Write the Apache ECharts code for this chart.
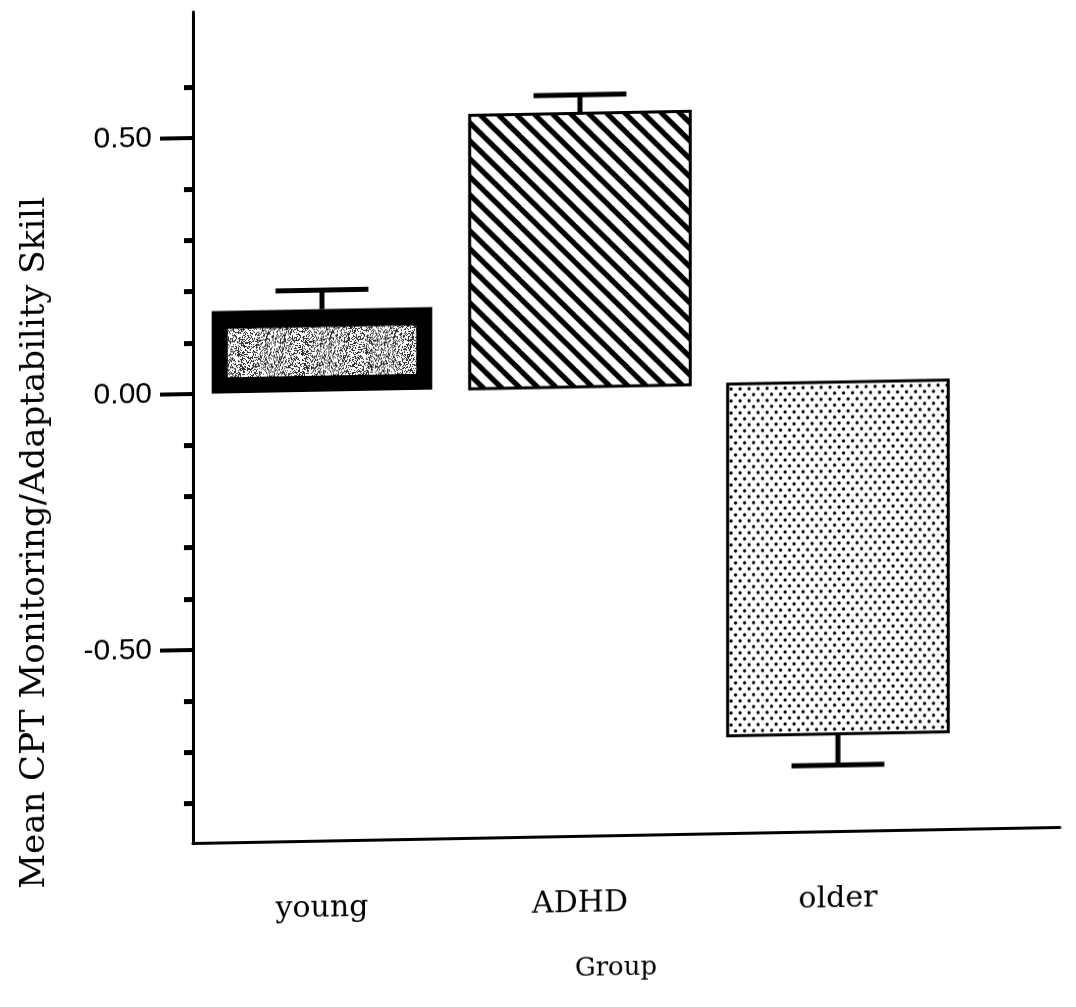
<!DOCTYPE html>
<html>
<head>
<meta charset="utf-8">
<title>Mean CPT Monitoring/Adaptability Skill by Group</title>
<script src="https://cdn.jsdelivr.net/npm/echarts@6/dist/echarts.min.js"></script>
<style>
  html, body { margin: 0; padding: 0; background: #ffffff; }
  /* the printed figure sits with a slight upward slant toward the right */
  #chart {
    width: 1076px; height: 1007px; background: #ffffff;
    transform: skewY(-1.06deg);
    transform-origin: 193px 0;
  }
</style>
</head>
<body>
<div id="chart"></div>
<script>
// ---- data ----
const groups = ['young', 'ADHD', 'older'];
const means = [0.161, 0.534, -0.687];
const errorEnds = [0.198, 0.570, -0.748];
const majorTicks = [-0.5, 0, 0.5];
const minorTicks = [-0.8, -0.7, -0.6, -0.4, -0.3, -0.2, -0.1, 0.1, 0.2, 0.3, 0.4, 0.6];
const yTitle = 'Mean CPT Monitoring/Adaptability Skill';
const xTitle = 'Group';

const SERIF = '"DejaVu Serif", "Liberation Serif", serif';
const SANS = '"Liberation Sans", "DejaVu Sans", sans-serif';

// ---- fill textures ----
function makeCanvas(w, h) {
  const c = document.createElement('canvas');
  c.width = w; c.height = h;
  return c;
}

// diagonal hatching running from upper left to lower right
function hatchTile() {
  const s = 18;
  const c = makeCanvas(s, s);
  const g = c.getContext('2d');
  g.fillStyle = '#fff';
  g.fillRect(0, 0, s, s);
  g.strokeStyle = '#000';
  g.lineWidth = 5.2;
  for (const k of [-1, 0, 1]) {
    g.beginPath();
    g.moveTo(k * s - 3, -3);
    g.lineTo(k * s + s + 3, s + 3);
    g.stroke();
  }
  return c;
}

// staggered dot screen
function dotTile() {
  const w = 9, h = 12;
  const c = makeCanvas(w, h);
  const g = c.getContext('2d');
  g.fillStyle = '#fff';
  g.fillRect(0, 0, w, h);
  g.fillStyle = '#000';
  [[2.2, 3], [6.7, 9]].forEach(([x, y]) => {
    g.beginPath();
    g.arc(x, y, 1.65, 0, Math.PI * 2);
    g.fill();
  });
  return c;
}

// speckled grey screen built from a fixed integer hash
function speckleTile() {
  const s = 64;
  const c = makeCanvas(s, s);
  const g = c.getContext('2d');
  const img = g.createImageData(s, s);
  for (let y = 0; y < s; y++) {
    for (let x = 0; x < s; x++) {
      let h = Math.imul(x + 1, 374761393) ^ Math.imul(y + 7, 668265263);
      h = Math.imul(h ^ (h >>> 13), 1274126177);
      h = (h ^ (h >>> 16)) >>> 0;
      const v = (h % 100) < 63 ? 252 : 45;
      const i = (y * s + x) * 4;
      img.data[i] = img.data[i + 1] = img.data[i + 2] = v;
      img.data[i + 3] = 255;
    }
  }
  g.putImageData(img, 0, 0);
  return c;
}

const hatch = { image: hatchTile(), repeat: 'repeat' };
const dots = { image: dotTile(), repeat: 'repeat' };
const speckle = { image: speckleTile(), repeat: 'repeat' };

// ---- series data: category position, mean, error-bar end ----
const barData = groups.map((name, i) => [i + 0.5, means[i], errorEnds[i]]);

function renderBar(params, api) {
  const x = api.value(0);
  const mean = api.value(1);
  const err = api.value(2);
  const band = api.size([1, 0])[0];
  const w = band * 0.855;
  const pTop = api.coord([x, Math.max(mean, 0)]);
  const pBot = api.coord([x, Math.min(mean, 0)]);
  const left = pTop[0] - w / 2;
  const top = pTop[1];
  const h = pBot[1] - pTop[1];
  const name = groups[params.dataIndex];
  const children = [];

  if (name === 'young') {
    const bw = 16;
    children.push({ type: 'rect', shape: { x: left, y: top, width: w, height: h },
      style: { fill: '#000' } });
    children.push({ type: 'rect',
      shape: { x: left + bw, y: top + bw + 2, width: w - 2 * bw, height: h - 2 * bw - 2 },
      style: { fill: speckle } });
  } else {
    children.push({ type: 'rect', shape: { x: left, y: top, width: w, height: h },
      style: { fill: name === 'ADHD' ? hatch : dots, stroke: '#000', lineWidth: 3 } });
  }

  // error bar: stem from the bar end to the cap
  const from = api.coord([x, mean]);
  const to = api.coord([x, err]);
  const capHalf = band * 0.18;
  children.push({ type: 'line', shape: { x1: from[0], y1: from[1], x2: to[0], y2: to[1] },
    style: { stroke: '#000', lineWidth: 5 } });
  children.push({ type: 'line', shape: { x1: to[0] - capHalf, y1: to[1], x2: to[0] + capHalf, y2: to[1] },
    style: { stroke: '#000', lineWidth: 5 } });

  return { type: 'group', children };
}

const chart = echarts.init(document.getElementById('chart'), null, { renderer: 'canvas' });

chart.setOption({
  backgroundColor: '#ffffff',
  animation: false,
  grid: { left: 193, right: 16, top: 12, bottom: 164, containLabel: false },
  xAxis: {
    type: 'value',
    min: 0,
    max: 3.36,
    axisLine: { show: true, onZero: false, lineStyle: { color: '#000', width: 3 } },
    axisTick: { show: false },
    splitLine: { show: false },
    axisLabel: {
      customValues: groups.map((g, i) => i + 0.5),
      formatter: v => groups[Math.round(v - 0.5)],
      margin: 53,
      color: '#000',
      fontFamily: SERIF,
      fontSize: 30
    }
  },
  yAxis: [
    {
      type: 'value',
      position: 'left',
      min: -0.877,
      max: 0.746,
      axisLine: { show: true, lineStyle: { color: '#000', width: 3 } },
      axisTick: { show: true, customValues: majorTicks, length: 33, lineStyle: { color: '#000', width: 4 } },
      splitLine: { show: false },
      axisLabel: {
        customValues: majorTicks,
        formatter: v => v.toFixed(2),
        margin: 41,
        color: '#000',
        fontFamily: SANS,
        fontSize: 30
      }
    },
    {
      type: 'value',
      position: 'left',
      min: -0.877,
      max: 0.746,
      axisLine: { show: false },
      axisTick: { show: true, customValues: minorTicks, length: 9, lineStyle: { color: '#000', width: 5 } },
      splitLine: { show: false },
      axisLabel: { show: false }
    }
  ],
  graphic: [
    {
      type: 'text',
      x: 35, y: 540,
      rotation: Math.PI / 2,
      style: { text: yTitle, fill: '#000', font: '34px ' + SERIF, align: 'center', verticalAlign: 'middle' }
    },
    {
      type: 'text',
      x: 616, y: 976,
      style: { text: xTitle, fill: '#000', font: '26px ' + SERIF, align: 'center', verticalAlign: 'middle' }
    }
  ],
  series: [
    {
      type: 'custom',
      xAxisIndex: 0,
      yAxisIndex: 0,
      renderItem: renderBar,
      data: barData,
      clip: false
    }
  ]
});
</script>
</body>
</html>
